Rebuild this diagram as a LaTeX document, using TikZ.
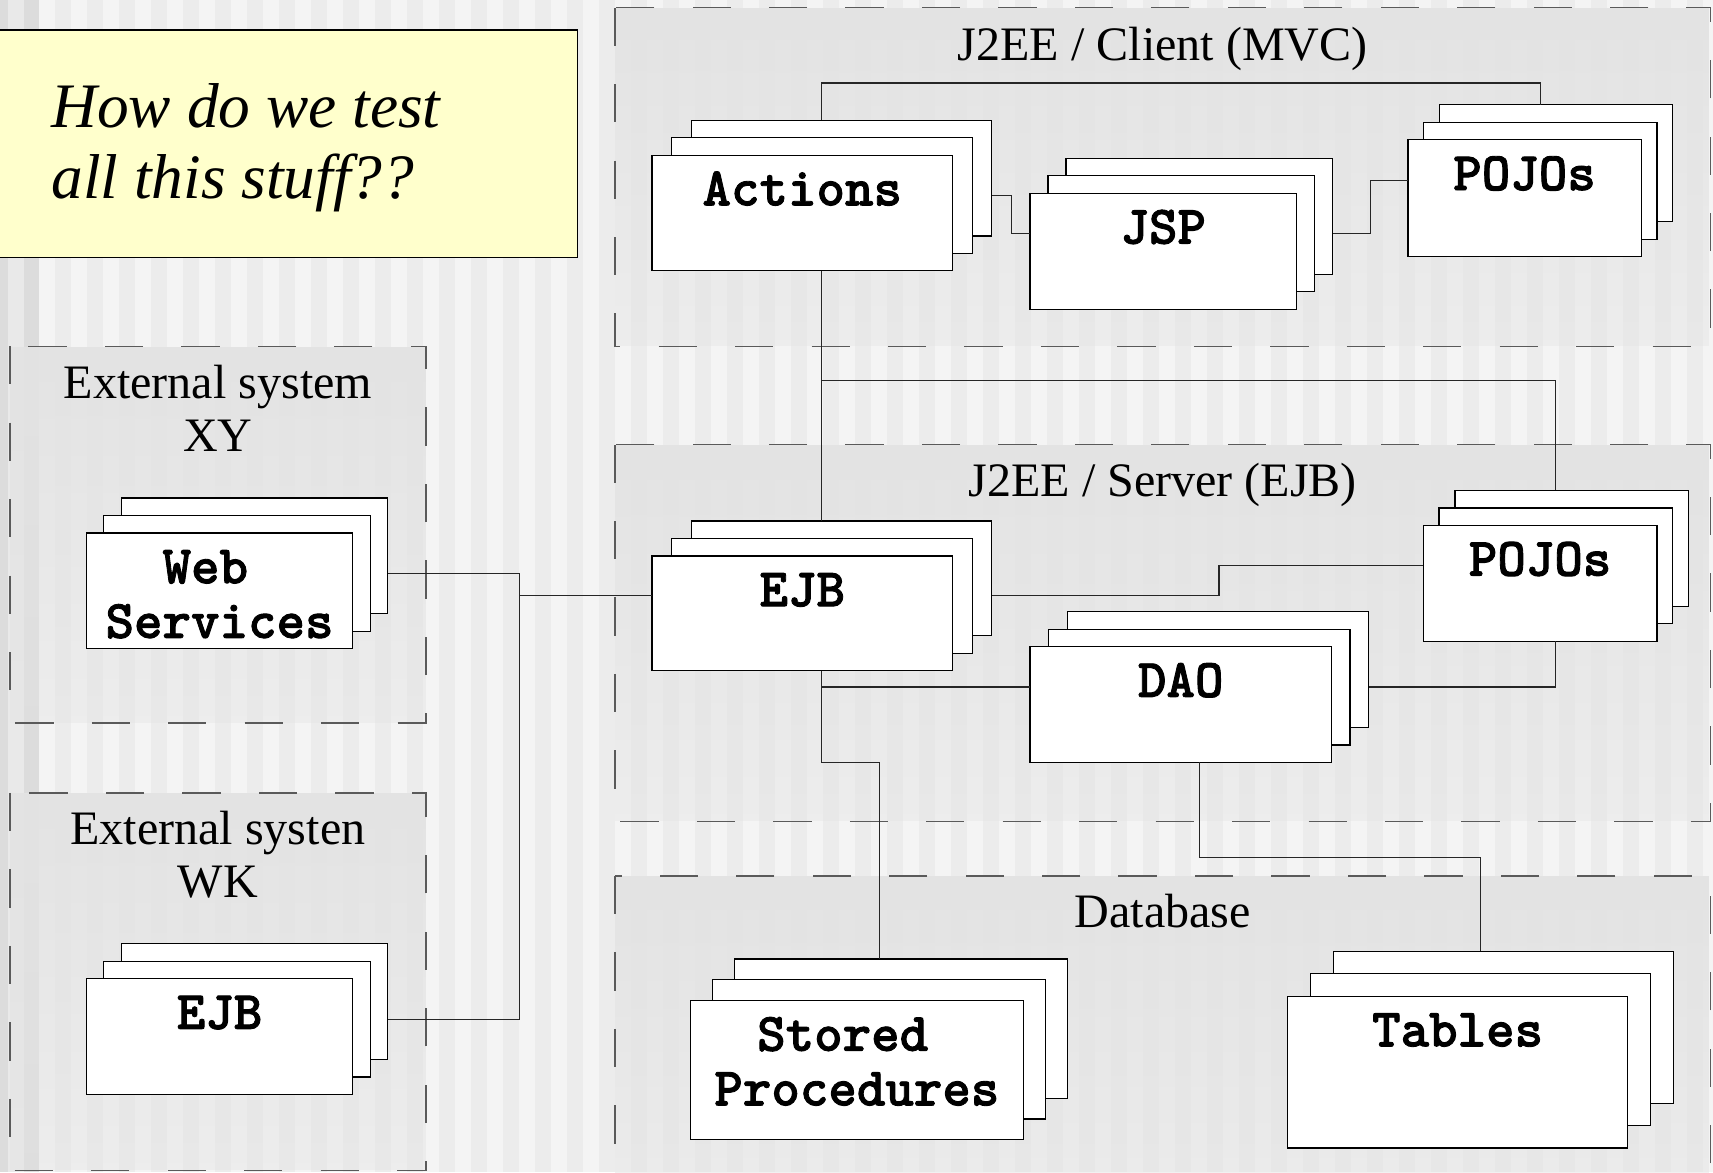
\documentclass[tikz,border=0pt]{standalone}
\usepackage{fontspec}
\setmainfont{Liberation Serif}
\newfontfamily\courfont{lmmonolt10-bold.otf}[FakeBold=1.6]
\usetikzlibrary{calc,fadings}
\definecolor{bgA}{HTML}{F4F4F4}
\definecolor{bgB}{HTML}{ECECEC}
\definecolor{bgC}{HTML}{DCDCDC}
\definecolor{bgD}{HTML}{E9E9E9}
\definecolor{boxgray}{HTML}{E3E3E3}
\definecolor{yel}{HTML}{FFFFCC}
\definecolor{dashgray}{HTML}{5A5A5A}
\tikzfading[name=boxfade, top color=transparent!0, bottom color=transparent!60]
\newcommand{\compstack}[7]{%
  \node[comp, minimum width=#4pt, minimum height=#5pt] (#1B) at ({#2+2*#6},{#3-2*#7}) {};
  \node[comp, minimum width=#4pt, minimum height=#5pt] (#1M) at ({#2+#6},{#3-#7}) {};
  \node[comp, minimum width=#4pt, minimum height=#5pt] (#1F) at (#2,#3) {};
}
\newcommand{\grpbox}[5]{%
  \node[grp, minimum width=#4pt, minimum height=#5pt] (#1) at (#2,#3) {};
  \fill[grpfill] (#1.north west) rectangle (#1.south east);
  \draw[grpline] (#1.north west) rectangle (#1.south east);
}
\begin{document}
\begin{tikzpicture}[x=1pt,y=-1pt,
  comp/.style={draw=black, line width=1.1pt, fill=white, anchor=north west, inner sep=0pt, outer sep=0pt},
  grp/.style={inner sep=0pt, outer sep=0pt, anchor=north west},
  grpline/.style={draw=dashgray, line width=1.3pt, dash pattern=on 35pt off 35pt},
  grpfill/.style={fill=boxgray, path fading=boxfade},
  wire/.style={draw=black!85, line width=1pt},
  serif/.style={font=\fontsize{44}{50}\selectfont, inner sep=0pt, anchor=base},
  mono/.style={font=\courfont\fontsize{49.7}{55}\selectfont, inner sep=0pt, anchor=base},
  qtext/.style={font=\itshape\fontsize{58}{65}\selectfont, inner sep=0pt, anchor=base west},
]
\useasboundingbox (0,0) rectangle (1568.3,1073);
\begin{scope}
\clip (0,0) rectangle (1568.3,1073);
% striped background
\fill[bgA] (0,0) rectangle (1568.3,1073);
\foreach \i in {0,...,52} \fill[bgB] ({50.35+\i*29.3},0) rectangle ++(14.65,1073);
\fill[bgC] (0,0) rectangle (7.3,1073);
\fill[bgD] (7.3,0) rectangle (22,1073);
\fill[bgC] (22,0) rectangle (35.7,1073);
% group boxes
\grpbox{client}{563}{7}{1003}{310}
\grpbox{server}{563}{407}{1003}{345}
\grpbox{db}{563}{802}{1003}{330}
\grpbox{xy}{9}{317}{381}{345}
\grpbox{wk}{9}{726}{381}{345.5}
\node[serif] (clientL) at ($(client.north)+(0,48)$) {J2EE / Client (MVC)};
\node[serif] (serverL) at ($(server.north)+(0,48)$) {J2EE / Server (EJB)};
\node[serif] (dbL) at ($(db.north)+(0,47)$) {Database};
\node[serif] (xyL1) at ($(xy.north)+(0,48)$) {External system};
\node[serif] (xyL2) at ($(xy.north)+(0,96)$) {XY};
\node[serif] (wkL1) at ($(wk.north)+(0,47)$) {External systen};
\node[serif] (wkL2) at ($(wk.north)+(0,96)$) {WK};
% question box
\node[draw=black, line width=1pt, fill=yel, anchor=north west, inner sep=0pt, minimum width=530pt, minimum height=208pt] (q) at (-2,27) {};
\node[qtext] (q1) at (47,117) {How do we test};
\node[qtext] (q2) at (47,182) {all this stuff??};
% component stacks
\compstack{act}{597}{142}{275}{106}{18}{16}
\compstack{jsp}{943}{177}{244}{106}{16.5}{16}
\compstack{pojc}{1289}{128}{213.5}{107}{14.5}{16}
\compstack{ejb}{597}{509}{275}{105}{18}{16}
\compstack{pojs}{1303}{481}{214}{106}{14.5}{16}
\compstack{dao}{943}{592}{276}{106}{17}{16}
\compstack{ws}{79}{488}{244}{106}{16}{16}
\compstack{xejb}{79}{896}{244}{106}{16}{16}
\compstack{sp}{632}{916}{305}{127.5}{20.3}{19}
\compstack{tab}{1179}{912}{311}{139}{21}{20.5}
% labels
\node[mono] (actL) at ($(actF.north)+(0,46)$) {Actions};
\node[mono] (jspL) at ($(jspF.north)+(0,46)$) {JSP};
\node[mono] (pojcL) at ($(pojcF.north)+(0,46)$) {POJOs};
\node[mono] (ejbL) at ($(ejbF.north)+(0,46)$) {EJB};
\node[mono] (pojsL) at ($(pojsF.north)+(0,46)$) {POJOs};
\node[mono] (daoL) at ($(daoF.north)+(0,46)$) {DAO};
\node[mono] (wsL1) at ($(wsF.north)+(-13,46)$) {Web};
\node[mono] (wsL2) at ($(wsF.north)+(0,96)$) {Services};
\node[mono] (xejbL) at ($(xejbF.north)+(0,46)$) {EJB};
\node[mono] (spL1) at ($(spF.north)+(-13,46)$) {Stored};
\node[mono] (spL2) at ($(spF.north)+(0,96)$) {Procedures};
\node[mono] (tabL) at ($(tabF.north)+(0,46)$) {Tables};
% connectors
\draw[wire] (actB.north -| actM.center) -- (actM.center |- 0,76) -| (pojcB.north -| pojcM.center);
\draw[wire] (actB.east |- actM.center) -- ++(18,0) |- (jspF.west |- jspM.center);
\draw[wire] (jspB.east |- jspM.center) -- ++(35,0) |- (pojcF.west |- pojcM.center);
\draw[wire] (actF.south -| actM.center) -- (ejbB.north -| ejbM.center);
\coordinate (jc) at (actM.center |- 0,348);
\draw[wire] (jc) -| (pojsB.north -| pojsM.center);
\draw[wire] (ejbB.east |- ejbM.center) -- ++(208,0) |- (pojsF.west |- pojsM.center);
\draw[wire] (ejbF.south -| ejbM.center) |- (daoF.west |- daoM.center);
\draw[wire] (ejbF.south -| ejbM.center) -- (ejbM.center |- daoF.south) -| (spB.north -| spM.center);
\draw[wire] (pojsF.south -| pojsM.center) |- (daoB.east |- daoM.center);
\draw[wire] (daoF.south -| daoM.center) -- (daoM.center |- 0,785) -| (tabB.north -| tabM.center);
\coordinate (wsj) at ($(wsB.east |- wsM.center)+(121,0)$);
\draw[wire] (wsB.east |- wsM.center) -- (wsj) |- (ejbF.west |- ejbM.center);
\draw[wire] (xejbB.east |- xejbM.center) -| (wsj);
\end{scope}
\end{tikzpicture}
\end{document}
